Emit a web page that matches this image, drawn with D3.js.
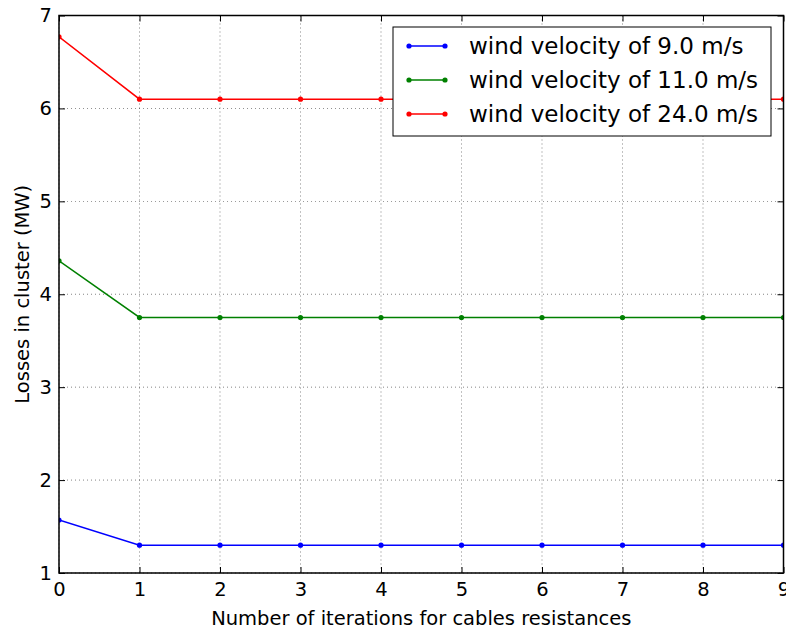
<!DOCTYPE html>
<html><head><meta charset="utf-8">
<script src="https://cdn.jsdelivr.net/npm/d3@7"></script>
<style>body{margin:0;background:#fff}svg{font-family:"DejaVu Sans",sans-serif}</style>
</head><body><svg id="c" width="786" height="631"></svg>
<script>
const iterations = [0,1,2,3,4,5,6,7,8,9];
const seriesNames = ["wind velocity of 9.0 m/s","wind velocity of 11.0 m/s","wind velocity of 24.0 m/s"];
const seriesColors = ["#0000ff","#008000","#ff0000"];
const loss9 = [1.57,1.30,1.30,1.30,1.30,1.30,1.30,1.30,1.30,1.30];
const loss11 = [4.36,3.75,3.75,3.75,3.75,3.75,3.75,3.75,3.75,3.75];
const loss24 = [6.77,6.10,6.10,6.10,6.10,6.10,6.10,6.10,6.10,6.10];
const yTicks = [1,2,3,4,5,6,7];
const xTicks = [0,1,2,3,4,5,6,7,8,9];
const series = [loss9, loss11, loss24];

const svg = d3.select("#c");
const m = {l:59, r:783.5, t:15.5, b:573};
const x = d3.scaleLinear().domain([0,9]).range([m.l, m.r]);
const y = d3.scaleLinear().domain([1,7]).range([m.b, m.t]);

svg.append("defs").append("clipPath").attr("id","clip")
  .append("rect").attr("x",m.l).attr("y",m.t).attr("width",m.r-m.l).attr("height",m.b-m.t);

// grid
const g = svg.append("g");
g.selectAll(".gx").data(xTicks).join("line")
  .attr("x1",d=>x(d)).attr("x2",d=>x(d)).attr("y1",m.t).attr("y2",m.b)
  .attr("stroke","#000").attr("stroke-width",0.6).attr("stroke-dasharray","1,3").attr("opacity",0.8);
g.selectAll(".gy").data(yTicks).join("line")
  .attr("y1",d=>y(d)).attr("y2",d=>y(d)).attr("x1",m.l).attr("x2",m.r)
  .attr("stroke","#000").attr("stroke-width",0.6).attr("stroke-dasharray","1,3").attr("opacity",0.8);

// lines
const plot = svg.append("g").attr("clip-path","url(#clip)");
const line = d3.line().x((d,i)=>x(iterations[i])).y(d=>y(d));
series.forEach((s,k)=>{
  plot.append("path").attr("d",line(s)).attr("fill","none")
    .attr("stroke",seriesColors[k]).attr("stroke-width",1.5);
  plot.selectAll(null).data(s).join("circle")
    .attr("cx",(d,i)=>x(iterations[i])).attr("cy",d=>y(d)).attr("r",2.6)
    .attr("fill",seriesColors[k]);
});

// axes with inward ticks
const ax = svg.append("g");
const axB = d3.axisBottom(x).tickValues(xTicks).tickFormat(d3.format("d")).tickSizeInner(-6).tickSizeOuter(0).tickPadding(9);
const axT = d3.axisTop(x).tickValues(xTicks).tickFormat("").tickSizeInner(-6).tickSizeOuter(0);
const axL = d3.axisLeft(y).tickValues(yTicks).tickFormat(d3.format("d")).tickSizeInner(-6).tickSizeOuter(0).tickPadding(7);
const axR = d3.axisRight(y).tickValues(yTicks).tickFormat("").tickSizeInner(-6).tickSizeOuter(0);
[[axB,`translate(0,${m.b})`],[axT,`translate(0,${m.t})`],[axL,`translate(${m.l},0)`],[axR,`translate(${m.r},0)`]].forEach(([a,t])=>{
  const gg = ax.append("g").attr("transform",t).call(a);
  gg.select(".domain").remove();
  gg.selectAll("line").attr("stroke","#000").attr("stroke-width",1);
  gg.selectAll("text").attr("font-size",19.5).attr("fill","#000").attr("font-family","DejaVu Sans");
});
ax.append("rect").attr("x",m.l).attr("y",m.t).attr("width",m.r-m.l).attr("height",m.b-m.t)
  .attr("fill","none").attr("stroke","#000").attr("stroke-width",1.5);

// labels
svg.append("text").attr("x",(m.l+m.r)/2).attr("y",625).attr("text-anchor","middle")
  .attr("font-size",19.5).text("Number of iterations for cables resistances");
svg.append("text").attr("transform",`translate(29,${(m.t+m.b)/2}) rotate(-90)`).attr("text-anchor","middle")
  .attr("font-size",19.5).text("Losses in cluster (MW)");

// legend
const lg = svg.append("g");
lg.append("rect").attr("x",393).attr("y",27).attr("width",378).attr("height",109)
  .attr("fill","#fff").attr("stroke","#000").attr("stroke-width",1);
seriesNames.forEach((n,k)=>{
  const yy = 46 + k*34;
  lg.append("line").attr("x1",409).attr("x2",445).attr("y1",yy).attr("y2",yy)
    .attr("stroke",seriesColors[k]).attr("stroke-width",1.5);
  [409,445].forEach(xx=>lg.append("circle").attr("cx",xx).attr("cy",yy).attr("r",2.6).attr("fill",seriesColors[k]));
  lg.append("text").attr("x",469).attr("y",yy).attr("dy","0.35em").attr("font-size",23).text(n);
});
</script></body></html>
